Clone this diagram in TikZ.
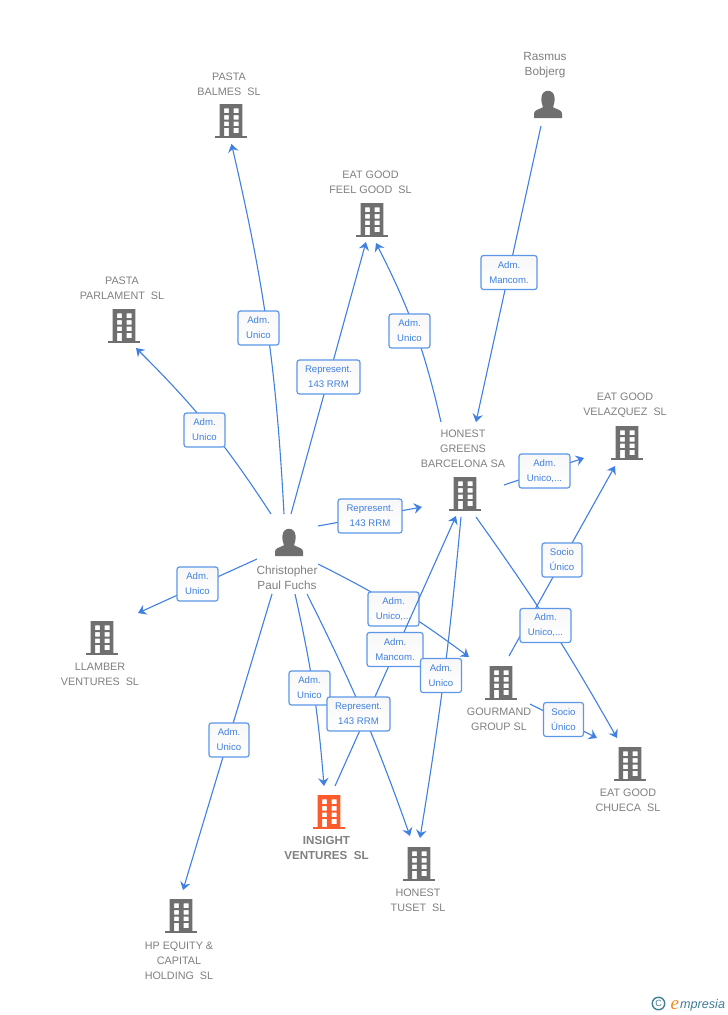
\documentclass[tikz,border=0pt]{standalone}
\usepackage{fontspec}
\setmainfont{Liberation Sans}
\newfontfamily\logoserif{Liberation Serif}
\usetikzlibrary{arrows.meta,shadings}
\definecolor{edgeblue}{HTML}{3F80E0}
\definecolor{boxblue}{HTML}{5C97E8}
\definecolor{labblue}{HTML}{3F80E0}
\definecolor{icongrey}{HTML}{6F6F6F}
\definecolor{txtgrey}{HTML}{808080}
\definecolor{hotorange}{HTML}{FF5A2B}
\definecolor{logoteal}{HTML}{3E7F96}
\definecolor{logoorange}{HTML}{F08A1D}
\tikzset{
  bldg/.style={anchor=north,minimum width=32,minimum height=34,inner sep=0,outer sep=0,
    path picture={
      \begin{scope}[shift={(path picture bounding box.center)}]
      \fill[#1,even odd rule] (-11.3,-17) rectangle (11.3,16)
        (-7,-12.7) rectangle (-2.2,-8) (2.7,-12.7) rectangle (7.5,-8)
        (-7,-6) rectangle (-2.2,-1.4) (2.7,-6) rectangle (7.5,-1.4)
        (-7,.7) rectangle (-2.2,5) (2.7,.7) rectangle (7.5,5)
        (-7,6.9) rectangle (-2.2,15) (2.7,6.9) rectangle (7.5,12);
      \fill[#1] (-16,14.6) rectangle (16,17);
      \end{scope}
    }},
  figure/.style={anchor=north,minimum width=28,minimum height=28,inner sep=0,outer sep=0,
    path picture={
      \begin{scope}[shift={(path picture bounding box.center)}]
      \fill[icongrey] (-14,14) -- (-14,9.5) .. controls (-14,6) and (-9,5.5) .. (-5,3.2)
        .. controls (-5.5,1) and (-7,-1.5) .. (-6.5,-6.5)
        .. controls (-6,-15.5) and (6,-15.5) .. (6.5,-6.5)
        .. controls (7,-1.5) and (5.5,1) .. (5,3.2)
        .. controls (9,5.5) and (14,6) .. (14,9.5) -- (14,14) -- cycle;
      \end{scope}
    }},
  nm/.style={align=center,text=txtgrey,inner sep=0,font=\fontsize{10.8}{15}\selectfont},
  pnm/.style={align=center,text=txtgrey,inner sep=0,font=\fontsize{11.8}{15}\selectfont},
  hotnm/.style={align=center,text=txtgrey,inner sep=0,font=\bfseries\fontsize{11.6}{15}\selectfont},
  lbox/.style={align=center,text=labblue,inner sep=0,draw=boxblue,line width=1.2,rounded corners=2.5,
    top color=black!3,bottom color=white,minimum height=34,minimum width=#1,
    font=\fontsize{9.6}{15}\selectfont},
  conn/.style={draw=edgeblue,line width=1.1,-{Stealth[length=8,width=10.5,inset=2.8]}},
}
\begin{document}
\begin{tikzpicture}[x=1pt,y=-1pt]
\useasboundingbox[fill=white] (0,0) rectangle (728,1015);

% icons
\node[bldg=icongrey] (balmes) at (231,104) {};
\node[bldg=icongrey] (feel) at (372,203) {};
\node[bldg=icongrey] (parl) at (124,309) {};
\node[bldg=icongrey] (velaz) at (627,426) {};
\node[bldg=icongrey] (honest) at (465,477) {};
\node[bldg=icongrey] (gourm) at (501,666) {};
\node[bldg=icongrey] (chueca) at (630,747) {};
\node[bldg=icongrey] (llamb) at (102,621) {};
\node[bldg=hotorange] (insight) at (329,795) {};
\node[bldg=icongrey] (tuset) at (419,847) {};
\node[bldg=icongrey] (hp) at (181,899) {};
\node[figure] (rasmus) at (548,90) {};
\node[figure] (chris) at (289,528) {};

% names
\node[nm] (tbalmes) at (229,84.4) {PASTA\\BALMES\ \ SL};
\node[nm] (tfeel) at (370.5,182.4) {EAT GOOD\\FEEL GOOD\ \ SL};
\node[nm] (tparl) at (122,288.4) {PASTA\\PARLAMENT\ \ SL};
\node[pnm] (trasmus) at (545,65.6) {Rasmus\\Bobjerg};
\node[nm] (tvelaz) at (625,405.7) {EAT GOOD\\VELAZQUEZ\ \ SL};
\node[nm] (thonest) at (463,448.7) {HONEST\\GREENS\\BARCELONA SA};
\node[pnm] (tchris) at (287,577.6) {Christopher\\Paul Fuchs};
\node[nm] (tllamb) at (100,674.6) {LLAMBER\\VENTURES\ \ SL};
\node[nm] (tgourm) at (499,719.7) {GOURMAND\\GROUP SL};
\node[nm] (tchueca) at (628,800.7) {EAT GOOD\\CHUECA\ \ SL};
\node[hotnm] (tinsight) at (326.5,848.3) {INSIGHT\\VENTURES\ \ SL};
\node[nm] (ttuset) at (418,900.7) {HONEST\\TUSET\ \ SL};
\node[nm] (thp) at (179,960.6) {HP EQUITY \&\\CAPITAL\\HOLDING\ \ SL};

% connector ends
\coordinate (a1) at (284,514); \coordinate (b1) at (231.5,144);
\coordinate (a2) at (291,514); \coordinate (b2) at (366,242);
\coordinate (a3) at (271,514); \coordinate (b3) at (136,348);
\coordinate (a4) at (441,422); \coordinate (b4) at (376,243);
\coordinate (a5) at (541,126); \coordinate (b5) at (476,422);
\coordinate (a6) at (318,526); \coordinate (b6) at (422,507);
\coordinate (a7) at (504,485); \coordinate (b7) at (584,458);
\coordinate (a8) at (509,656); \coordinate (b8) at (615,466);
\coordinate (a9) at (476,517); \coordinate (b9) at (617,738);
\coordinate (a10) at (530,704); \coordinate (b10) at (597,738);
\coordinate (a11) at (318,564); \coordinate (b11) at (469,657);
\coordinate (a12) at (335,786); \coordinate (b12) at (456,516);
\coordinate (a13) at (461,517); \coordinate (b13) at (420,838);
\coordinate (a14) at (295,594); \coordinate (b14) at (324,786);
\coordinate (a15) at (307,594); \coordinate (b15) at (410,836);
\coordinate (a16) at (257,559); \coordinate (b16) at (138,613);
\coordinate (a17) at (272,594); \coordinate (b17) at (183,890);

% connectors with their labels
\draw[conn] (a1) to[bend right=5] (b1);
\node[lbox=41] (l1) at (258.5,328) {Adm.\\Unico};
\draw[conn] (a2) -- (b2);
\node[lbox=63] (l2) at (328.5,377) {Represent.\\143 RRM};
\draw[conn] (a3) to[bend right=6] (b3);
\node[lbox=41] (l3) at (204.5,430) {Adm.\\Unico};
\draw[conn] (a4) to[bend right=7] (b4);
\node[lbox=41] (l4) at (409.5,331) {Adm.\\Unico};
\draw[conn] (a5) -- (b5);
\node[lbox=56] (l5) at (509,272.5) {Adm.\\Mancom.};
\draw[conn] (a6) -- (b6);
\node[lbox=64] (l6) at (370,516) {Represent.\\143 RRM};
\draw[conn] (a7) -- (b7);
\node[lbox=51] (l7) at (544.5,471) {Adm.\\Unico,...};
\draw[conn] (a8) -- (b8);
\node[lbox=40] (l8) at (562,560) {Socio\\Único};
\draw[conn] (a9) to[bend left=3] (b9);
\node[lbox=51] (l9) at (545.5,625.5) {Adm.\\Unico,...};
\draw[conn] (a10) -- (b10);
\node[lbox=40] (l10) at (563.5,719.5) {Socio\\Único};
\draw[conn] (a11) to[bend left=5] (b11);
\node[lbox=51] (l11) at (393.5,609) {Adm.\\Unico,...};
\draw[conn] (a12) -- (b12);
\node[lbox=56] (l12) at (395,649.5) {Adm.\\Mancom.};
\draw[conn] (a13) to[bend left=2] (b13);
\node[lbox=41] (l13) at (441,675.5) {Adm.\\Unico};
\draw[conn] (a14) to[bend left=4] (b14);
\node[lbox=41] (l14) at (309.5,688) {Adm.\\Unico};
\draw[conn] (a15) to[bend left=3.5] (b15);
\node[lbox=63] (l15) at (358.5,714) {Represent.\\143 RRM};
\draw[conn] (a16) -- (b16);
\node[lbox=41] (l16) at (197.5,584) {Adm.\\Unico};
\draw[conn] (a17) -- (b17);
\node[lbox=40] (l17) at (229,740) {Adm.\\Unico};

% logo
\node[circle,draw=logoteal,line width=1.4,minimum size=12.5,inner sep=0,text=logoteal,font=\fontsize{9}{9}\selectfont] (copy) at (658.5,1003.5) {C};
\node[anchor=base west,inner sep=0,text=logoorange,font=\logoserif\itshape\fontsize{19}{19}\selectfont] (loge) at (670.5,1009) {e};
\node[anchor=base west,inner sep=0,text=logoteal,font=\itshape\fontsize{12.6}{13}\selectfont] (logt) at (680,1008) {mpresia};
\end{tikzpicture}
\end{document}
